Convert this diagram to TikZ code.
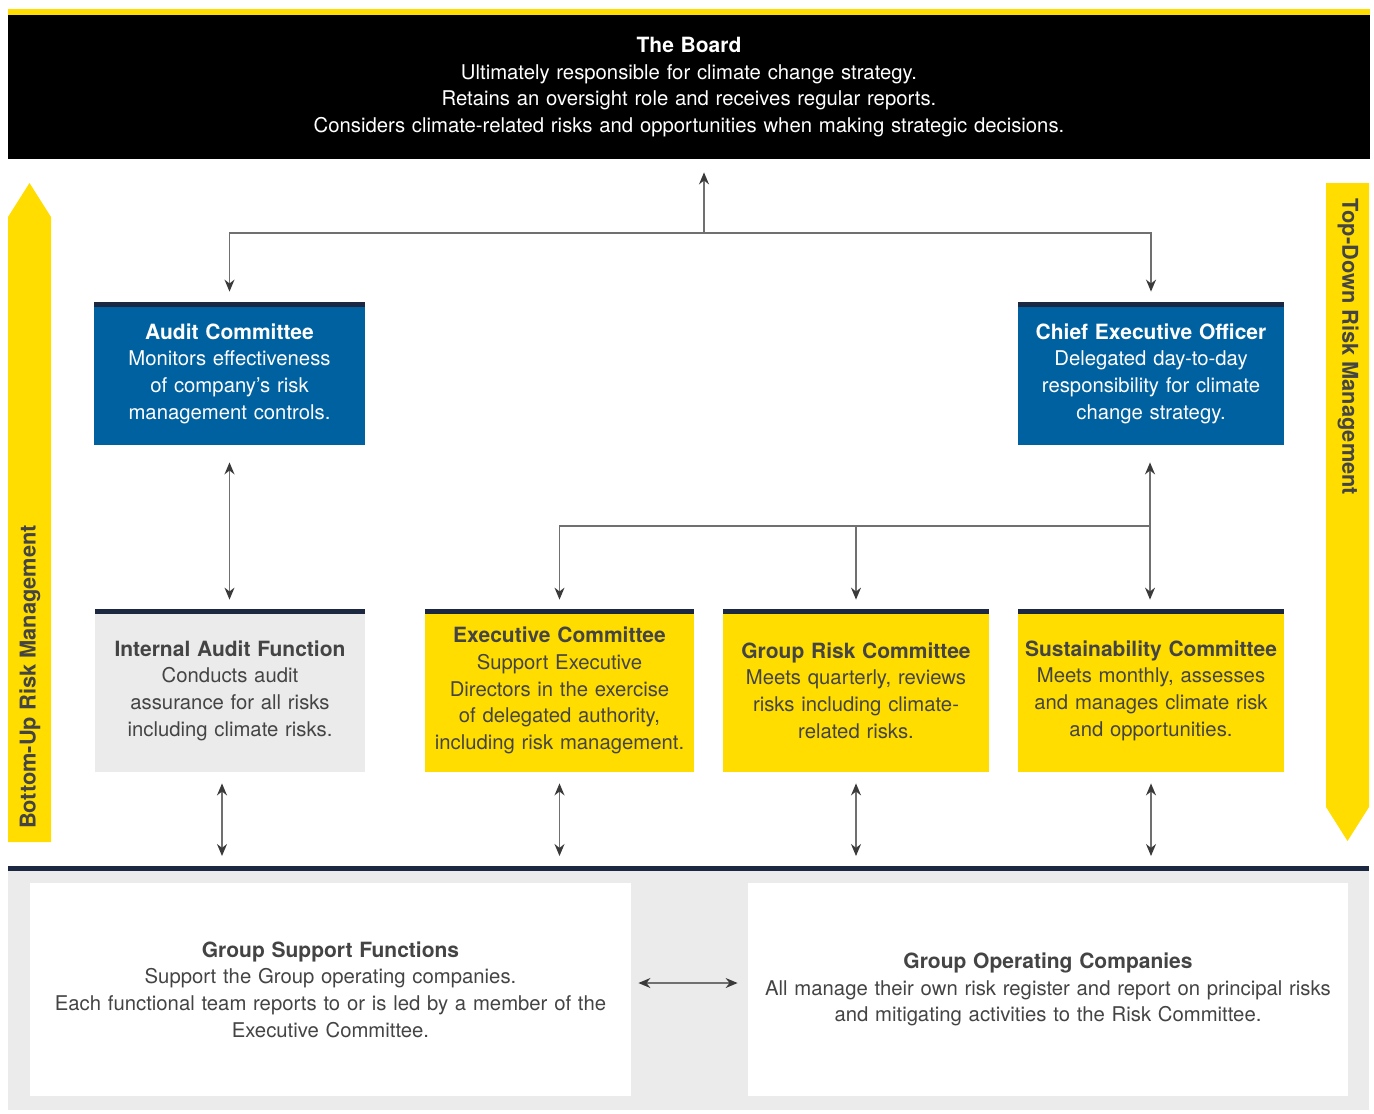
\documentclass[tikz,border=0pt]{standalone}
\usepackage{fontspec}
\setmainfont{TeX Gyre Heros}
\usetikzlibrary{calc}
\usetikzlibrary{arrows.meta}
\definecolor{boardyellow}{HTML}{FFDD00}
\definecolor{ceoblue}{HTML}{0061A0}
\definecolor{navy}{HTML}{1C2841}
\definecolor{panelgray}{HTML}{EBEBEB}
\definecolor{textgray}{HTML}{444444}
\definecolor{wiregray}{HTML}{707070}
\definecolor{tipgray}{HTML}{3A3A3A}
\tikzset{
  box/.style = {fill=#1, inner sep=0pt, align=center, font=\fontsize{10.15}{13.3}\selectfont},
  wire/.style = {color=#1, line width=0.7pt},
  vec/.style = {color=#1, line width=0.7pt, -{Stealth[length=6pt,width=5pt,color=tipgray]}},
  dvec/.style = {color=#1, line width=0.7pt, {Stealth[length=6pt,width=5pt,color=tipgray]}-{Stealth[length=6pt,width=5pt,color=tipgray]}},
  sidetext/.style = {color=#1, font=\fontsize{10.9}{12}\selectfont\bfseries}
}
\newcommand{\hd}[1]{{\fontsize{10.5}{13.3}\selectfont\bfseries #1}}
\newcommand{\topbar}[2][]{%
  % #1: optional style
  % #2: node name
  \fill[navy, #1] (#2.north west) rectangle ([yshift=-2.5pt]#2.north east);
}

\begin{document}
\begin{tikzpicture}[x=0.5pt, y=-0.5pt]

    \useasboundingbox (0,0) rectangle (1374,1113);

    % Side arrows
    \fill[boardyellow] (8,842) -- (8,217) -- (29.5,183) -- (51,217) -- (51,842) -- cycle;
    \fill[boardyellow] (1326,183) -- (1369,183) -- (1369,807) -- (1347.5,841) -- (1326,807) -- cycle;
    \node[sidetext={textgray}, rotate=90] (bottomup) at (30,677) {Bottom-Up Risk Management};
    \node[sidetext={textgray}, rotate=-90] (topdown) at (1348,347) {Top-Down Risk Management};

    % Board
    \fill[boardyellow] (8,9) rectangle (1370,15);
    \node[box={black}, text=white, text width=681pt, minimum height=72pt] (board) at (689,87)
      {\hd{The Board}\\Ultimately responsible for climate change strategy.\\Retains an oversight role and receives regular reports.\\Considers climate-related risks and opportunities when making strategic decisions.};

    % Committees
    \node[box={ceoblue}, text=white, text width=135.5pt, minimum height=71.5pt] (audit) at (229.5,373.5)
      {\hd{Audit Committee}\\Monitors effectiveness\\of company’s risk\\management controls.};
    \node[box={ceoblue}, text=white, text width=133pt, minimum height=71.5pt] (ceo) at (1151,373.5)
      {\hd{Chief Executive Officer}\\Delegated day-to-day\\responsibility for climate\\change strategy.};
    \node[box={panelgray}, text=textgray, text width=135pt, minimum height=81.5pt] (internal) at (230,690.5)
      {\hd{Internal Audit Function}\\Conducts audit\\assurance for all risks\\including climate risks.};
    \node[box={boardyellow}, text=textgray, text width=134.5pt, minimum height=81.5pt] (exec) at (559.5,690.5)
      {\hd{Executive Committee}\\Support Executive\\Directors in the exercise\\of delegated authority,\\including risk management.};
    \node[box={boardyellow}, text=textgray, text width=133pt, minimum height=81.5pt] (grc) at (856,690.5)
      {\hd{Group Risk Committee}\\Meets quarterly, reviews\\risks including climate-\\related risks.};
    \node[box={boardyellow}, text=textgray, text width=133pt, minimum height=81.5pt] (sust) at (1151,690.5)
      {\hd{Sustainability Committee}\\Meets monthly, assesses\\and manages climate risk\\and opportunities.};
    \foreach \nm in {audit,ceo,internal,exec,grc,sust} {
      \topbar{\nm}
    }

    % Group level
    \fill[panelgray] (8,871) rectangle (1369,1110);
    \fill[navy] (8,866) rectangle (1369,871);
    \coordinate (base) at (689,866);
    \node[box={white}, text=textgray, text width=300.5pt, minimum height=106.5pt] (support) at (330.5,989.5)
      {\hd{Group Support Functions}\\Support the Group operating companies.\\Each functional team reports to or is led by a member of the\\Executive Committee.};
    \node[box={white}, text=textgray, text width=300pt, minimum height=106.5pt] (operating) at (1048,989.5)
      {\hd{Group Operating Companies}\\All manage their own risk register and report on principal risks\\and mitigating activities to the Risk Committee.};

    % Connectors
    \coordinate (split) at (704,233);
    \coordinate (hub) at (1150,526);
    \draw[vec={wiregray}, shorten >=6.5pt] (split) -- (split |- board.south);
    \draw[vec={wiregray}, shorten >=5pt] (split) -| (audit.north);
    \draw[vec={wiregray}, shorten >=5pt] (split) -| (ceo.north);
    \draw[dvec={wiregray}, shorten <=8.5pt, shorten >=4.5pt] (audit.south) -- (audit.south |- internal.north);
    \draw[vec={wiregray}, shorten >=8.5pt] (hub) -- (hub |- ceo.south);
    \draw[vec={wiregray}, shorten >=4.5pt] (hub) -| (exec.north);
    \draw[vec={wiregray}, shorten >=4.5pt] (hub) -| (grc.north);
    \draw[vec={wiregray}, shorten >=4.5pt] (hub) -- (hub |- sust.north);
    \draw[dvec={wiregray}, shorten <=5.5pt, shorten >=5pt] ([xshift=-4pt]internal.south) -- ([xshift=-4pt]internal.south |- base);
    \foreach \nm in {exec,grc,sust} {
      \draw[dvec={wiregray}, shorten <=5.5pt, shorten >=5pt] (\nm.south) -- (\nm.south |- base);
    }
    \draw[dvec={wiregray}, shorten <=3.5pt, shorten >=5pt] ([yshift=3.25pt]support.east) -- ([yshift=3.25pt]operating.west);

\end{tikzpicture}
\end{document}
